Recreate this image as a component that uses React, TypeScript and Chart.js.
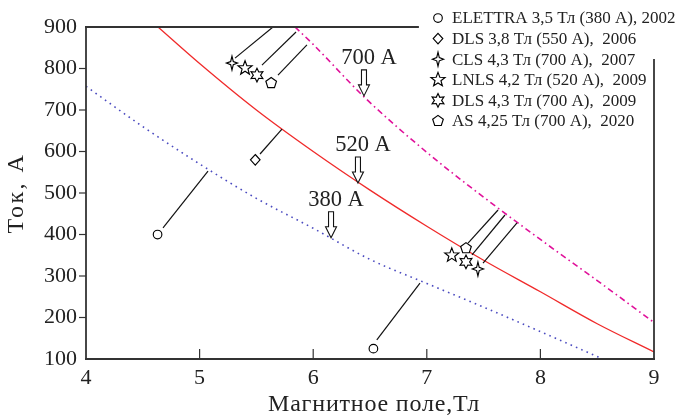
import React, { useEffect, useRef } from "react";
import { Chart, registerables } from "chart.js";

Chart.register(...registerables);

// ---------- data ----------
const xTickValues = [4, 5, 6, 7, 8, 9];
const yTickValues = [100, 200, 300, 400, 500, 600, 700, 800, 900];

const curve380X = [4, 4.5, 5, 5.5, 6, 6.5, 7, 7.5, 8, 8.55];
const curve380Y = [757, 660, 570, 487, 415, 340, 282, 225, 166, 100];

const curve520X = [4.634, 5, 5.5, 6, 6.5, 7, 7.5, 8, 8.5, 9];
const curve520Y = [900, 812, 700, 600, 507, 420, 338, 262, 185, 117];

const curve700X = [5.84, 6, 6.45, 7, 7.5, 8, 8.5, 9];
const curve700Y = [900, 858, 731, 598, 490, 388, 289, 188];

const legendLabels = [
  "ELETTRA 3,5 Тл (380 А), 2002",
  "DLS 3,8 Тл (550 А),  2006",
  "CLS 4,3 Тл (700 А),  2007",
  "LNLS 4,2 Тл (520 А),  2009",
  "DLS 4,3 Тл (700 А),  2009",
  "AS 4,25 Тл (700 А),  2020",
];
const markerKinds = ["circle", "diamond", "star4", "star5", "hexagram", "pentagon"];

const elettraX = [4.63, 6.53];
const elettraY = [400, 125];
const dls38X = [5.49];
const dls38Y = [580];
const clsX = [5.285, 7.45];
const clsY = [813, 317];
const lnlsX = [5.4, 7.22];
const lnlsY = [801, 350];
const dls43X = [5.505, 7.345];
const dls43Y = [784, 334];
const asX = [5.63, 7.345];
const asY = [765, 367];

const leaderX1 = [4.678, 6.56, 5.532, 5.312, 5.549, 5.69, 7.363, 7.398, 7.495];
const leaderY1 = [416, 146, 594, 825, 808, 784, 379, 351, 331];
const leaderX2 = [5.074, 6.94, 5.725, 5.646, 5.849, 5.945, 7.627, 7.688, 7.794];
const leaderY2 = [553, 283, 654, 900, 888, 857, 459, 447, 428];

const calloutLabels = ["700 А", "520 А", "380 А"];
const calloutTipX = [6.447, 6.394, 6.157];
const calloutTipY = [734, 524, 392];

const xTitle = "Магнитное поле,Тл";
const yTitle = "Ток, А";

// ---------- styling ----------
const SERIF = "'Liberation Serif', 'Times New Roman', serif";
const TEXT = "#222";
const FRAME = "#333";

function pts(xs: number[], ys: number[]) {
  return xs.map((x, i) => ({ x, y: ys[i] }));
}

function drawMarker(ctx: CanvasRenderingContext2D, kind: string, cx: number, cy: number) {
  ctx.save();
  ctx.lineWidth = 1.15;
  ctx.strokeStyle = "#000";
  ctx.fillStyle = "#fff";
  ctx.lineJoin = "miter";
  const poly = (n: number, ro: number, ri: number | null, rot = -Math.PI / 2, sx = 1) => {
    ctx.beginPath();
    const m = ri === null ? n : 2 * n;
    for (let i = 0; i < m; i++) {
      const r = ri === null ? ro : i % 2 === 0 ? ro : ri;
      const a = rot + (i * 2 * Math.PI) / m;
      const px = cx + r * Math.cos(a) * sx;
      const py = cy + r * Math.sin(a);
      if (i === 0) ctx.moveTo(px, py);
      else ctx.lineTo(px, py);
    }
    ctx.closePath();
    ctx.fill();
    ctx.stroke();
  };
  if (kind === "circle") {
    ctx.beginPath();
    ctx.arc(cx, cy, 4.3, 0, Math.PI * 2);
    ctx.fill();
    ctx.stroke();
  } else if (kind === "diamond") {
    ctx.beginPath();
    ctx.moveTo(cx, cy - 5.3);
    ctx.lineTo(cx + 4.8, cy);
    ctx.lineTo(cx, cy + 5.3);
    ctx.lineTo(cx - 4.8, cy);
    ctx.closePath();
    ctx.fill();
    ctx.stroke();
  } else if (kind === "star4") {
    poly(4, 7, 2.3, -Math.PI / 2, 0.8);
  } else if (kind === "star5") {
    poly(5, 7.4, 3.1, -Math.PI / 2);
  } else if (kind === "hexagram") {
    poly(6, 6.8, 3.6, -Math.PI / 2);
  } else if (kind === "pentagon") {
    poly(5, 5.6, null, -Math.PI / 2);
  }
  ctx.restore();
}

export default function App() {
  const ref = useRef<HTMLCanvasElement | null>(null);

  useEffect(() => {
    document.body.style.margin = "0";
    const canvas = ref.current;
    if (!canvas) return;

    const markerSets = [
      [elettraX, elettraY],
      [dls38X, dls38Y],
      [clsX, clsY],
      [lnlsX, lnlsY],
      [dls43X, dls43Y],
      [asX, asY],
    ];

    const datasets: any[] = [];
    markerSets.forEach(([xs, ys], i) => {
      datasets.push({
        label: legendLabels[i],
        data: pts(xs, ys),
        markerKind: markerKinds[i],
        pointRadius: 0,
        borderWidth: 0,
        showLine: false,
        order: 0,
      });
    });
    leaderX1.forEach((_, i) => {
      datasets.push({
        label: "leader" + i,
        data: [
          { x: leaderX1[i], y: leaderY1[i] },
          { x: leaderX2[i], y: leaderY2[i] },
        ],
        showLine: true,
        borderColor: "#111",
        borderWidth: 1.2,
        pointRadius: 0,
        order: 1,
      });
    });
    datasets.push({
      label: "380 A",
      data: pts(curve380X, curve380Y),
      showLine: true,
      borderColor: "#4b4bc0",
      borderWidth: 1.6,
      borderDash: [1.6, 4.2],
      pointRadius: 0,
      cubicInterpolationMode: "monotone",
      order: 2,
    });
    datasets.push({
      label: "520 A",
      data: pts(curve520X, curve520Y),
      showLine: true,
      borderColor: "#f02a2a",
      borderWidth: 1.3,
      pointRadius: 0,
      cubicInterpolationMode: "monotone",
      order: 2,
    });
    datasets.push({
      label: "700 A",
      data: pts(curve700X, curve700Y),
      showLine: true,
      borderColor: "#e0119a",
      borderWidth: 1.6,
      borderDash: [6, 3.5, 1.6, 3.5],
      pointRadius: 0,
      cubicInterpolationMode: "monotone",
      order: 2,
    });

    const decor = {
      id: "decor",
      afterDatasetsDraw(chart: any) {
        const ctx: CanvasRenderingContext2D = chart.ctx;
        chart.data.datasets.forEach((ds: any, i: number) => {
          if (!ds.markerKind) return;
          const meta = chart.getDatasetMeta(i);
          meta.data.forEach((el: any) => drawMarker(ctx, ds.markerKind, el.x, el.y));
        });
      },
      afterDraw(chart: any) {
        const ctx: CanvasRenderingContext2D = chart.ctx;
        const ca = chart.chartArea;
        const xs = chart.scales.x;
        const ys = chart.scales.y;
        const seg = (x1: number, y1: number, x2: number, y2: number) => {
          ctx.beginPath();
          ctx.moveTo(x1, y1);
          ctx.lineTo(x2, y2);
          ctx.stroke();
        };
        ctx.save();
        ctx.strokeStyle = FRAME;
        ctx.lineWidth = 1.8;
        ctx.lineCap = "square";
        seg(ca.left, ca.top, ca.left, ca.bottom);
        seg(ca.left, ca.bottom, ca.right, ca.bottom);
        seg(ca.left, ca.top, 418, ca.top);
        seg(ca.right, 60, ca.right, ca.bottom);
        ctx.lineCap = "butt";
        ctx.lineWidth = 1.2;
        xTickValues.slice(1, -1).forEach((v) => {
          const px = xs.getPixelForValue(v);
          seg(px, ca.bottom, px, ca.bottom - 10);
        });
        yTickValues.slice(1, -1).forEach((v) => {
          const py = ys.getPixelForValue(v);
          seg(ca.left - 7, py, ca.left, py);
        });

        // callouts
        ctx.font = `22.5px ${SERIF}`;
        ctx.textAlign = "center";
        ctx.textBaseline = "alphabetic";
        calloutLabels.forEach((lab, i) => {
          const tx = xs.getPixelForValue(calloutTipX[i]);
          const ty = ys.getPixelForValue(calloutTipY[i]);
          ctx.fillStyle = TEXT;
          ctx.fillText(lab, tx + 5, ty - 32);
          ctx.beginPath();
          ctx.moveTo(tx - 2.5, ty - 26);
          ctx.lineTo(tx - 2.5, ty - 11);
          ctx.lineTo(tx - 5.5, ty - 11);
          ctx.lineTo(tx, ty);
          ctx.lineTo(tx + 5.5, ty - 11);
          ctx.lineTo(tx + 2.5, ty - 11);
          ctx.lineTo(tx + 2.5, ty - 26);
          ctx.closePath();
          ctx.fillStyle = "#fff";
          ctx.fill();
          ctx.strokeStyle = "#111";
          ctx.lineWidth = 1.1;
          ctx.stroke();
        });

        // legend
        ctx.textAlign = "left";
        ctx.textBaseline = "middle";
        ctx.font = `17px ${SERIF}`;
        legendLabels.forEach((lab, i) => {
          const y = 18 + i * 20.6;
          drawMarker(ctx, markerKinds[i], 438, y);
          ctx.fillStyle = TEXT;
          ctx.fillText(lab, 452, y + 1);
        });

        // axis titles
        ctx.fillStyle = TEXT;
        ctx.font = `24px ${SERIF}`;
        ctx.textAlign = "center";
        ctx.textBaseline = "alphabetic";
        (ctx as any).letterSpacing = "0.8px";
        ctx.fillText(xTitle, (ca.left + ca.right) / 2 + 4, 411);
        ctx.save();
        (ctx as any).letterSpacing = "2.5px";
        ctx.translate(23, (ca.top + ca.bottom) / 2);
        ctx.rotate(-Math.PI / 2);
        ctx.fillText(yTitle, 0, 0);
        ctx.restore();
        (ctx as any).letterSpacing = "0px";
        ctx.restore();
      },
    };

    const chart = new Chart(canvas, {
      type: "scatter",
      data: { datasets },
      options: {
        animation: false,
        responsive: false,
        maintainAspectRatio: false,
        layout: { padding: { top: 27, right: 27, left: 0, bottom: 0 } },
        plugins: { legend: { display: false }, tooltip: { enabled: false } },
        scales: {
          x: {
            type: "linear",
            min: 4,
            max: 9,
            afterFit: (s: any) => {
              s.height = 58;
            },
            afterBuildTicks: (s: any) => {
              s.ticks = xTickValues.map((v) => ({ value: v }));
            },
            ticks: {
              font: { family: SERIF, size: 22 },
              color: TEXT,
              padding: 6,
              maxRotation: 0,
            },
            grid: { display: false, drawTicks: false },
            border: { display: false },
          },
          y: {
            type: "linear",
            min: 100,
            max: 900,
            afterFit: (s: any) => {
              s.width = 86;
            },
            afterBuildTicks: (s: any) => {
              s.ticks = yTickValues.map((v) => ({ value: v }));
            },
            ticks: {
              font: { family: SERIF, size: 22 },
              color: TEXT,
              padding: 9,
            },
            grid: { display: false, drawTicks: false },
            border: { display: false },
          },
        },
      },
      plugins: [decor],
    });
    return () => chart.destroy();
  }, []);

  return (
    <div style={{ width: 681, height: 417 }}>
      <canvas ref={ref} width={681} height={417} style={{ width: 681, height: 417, display: "block" }} />
    </div>
  );
}
